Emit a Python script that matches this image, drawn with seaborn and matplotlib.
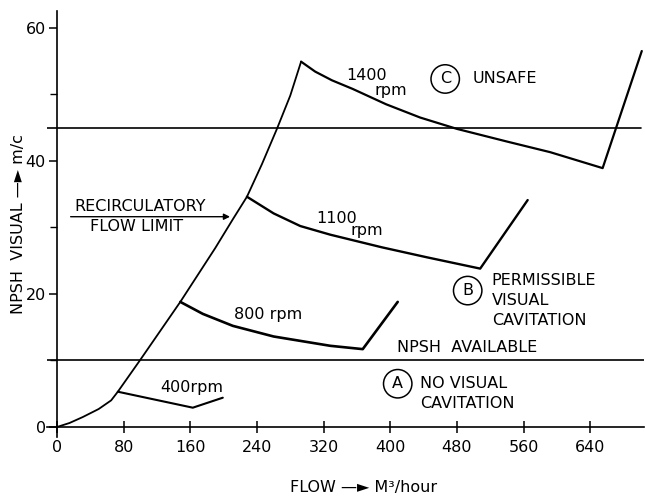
import matplotlib
matplotlib.use("Agg")
import matplotlib.pyplot as plt
import pandas as pd
import seaborn as sns

# envelope (recirculatory flow limit) curve
envelope_flow = [0, 15, 31, 50, 65, 73, 100, 148, 190, 211, 228, 246, 264, 280, 293]
envelope_npsh = [0, 0.6, 1.5, 2.7, 4.0, 5.3, 10.1, 18.8, 26.9, 31.2, 34.6, 39.5, 44.8, 49.8, 54.9]

# constant speed curves
rpm400_flow = [73, 163, 199]
rpm400_npsh = [5.3, 2.9, 4.4]
rpm800_flow = [148, 175, 211, 260, 328, 367, 409]
rpm800_npsh = [18.8, 17.0, 15.2, 13.6, 12.2, 11.7, 18.8]
rpm1100_flow = [228, 260, 292, 328, 390, 444, 508, 565]
rpm1100_npsh = [34.6, 32.1, 30.2, 28.9, 27.0, 25.5, 23.8, 34.1]
rpm1400_flow = [293, 310, 330, 355, 395, 436, 480, 540, 592, 655, 702]
rpm1400_npsh = [54.9, 53.4, 52.1, 50.8, 48.5, 46.5, 44.8, 42.9, 41.3, 38.9, 56.5]

npsh_available = 10
unsafe_limit = 45

x_ticks = [0, 80, 160, 240, 320, 400, 480, 560, 640]
y_ticks = [0, 20, 40, 60]
y_minor = [10, 30, 50]

curves = pd.concat([
	pd.DataFrame({"flow": envelope_flow, "npsh": envelope_npsh, "curve": "envelope"}),
	pd.DataFrame({"flow": rpm400_flow, "npsh": rpm400_npsh, "curve": "400"}),
	pd.DataFrame({"flow": rpm800_flow, "npsh": rpm800_npsh, "curve": "800"}),
	pd.DataFrame({"flow": rpm1100_flow, "npsh": rpm1100_npsh, "curve": "1100"}),
	pd.DataFrame({"flow": rpm1400_flow, "npsh": rpm1400_npsh, "curve": "1400"}),
], ignore_index=True)

sns.set_theme(style="ticks")
plt.rcParams["font.family"] = ["DejaVu Sans"]

fig = plt.figure(figsize=(6.45, 5.04), dpi=100)
ax = fig.add_axes([0.0729, 0.133, 0.926, 0.845])

widths = {"envelope": 1.3, "400": 1.5, "800": 1.9, "1100": 1.7, "1400": 1.6}
for name, part in curves.groupby("curve", sort=False):
	sns.lineplot(data=part, x="flow", y="npsh", sort=False, estimator=None,
				 color="black", lw=widths[name], ax=ax)

ax.axhline(npsh_available, color="black", lw=1.2)
ax.axhline(unsafe_limit, color="black", lw=1.2, xmax=0.995)

ax.set_xlim(-12, 705)
ax.set_ylim(-1.5, 62.5)
ax.spines["left"].set_position(("data", 0))
ax.spines["bottom"].set_position(("data", 0))
ax.spines["top"].set_visible(False)
ax.spines["right"].set_visible(False)
for s in ["left", "bottom"]:
	ax.spines[s].set_color("black")
	ax.spines[s].set_linewidth(1.2)

ax.set_xticks(x_ticks)
ax.set_yticks(y_ticks)
ax.set_yticks(y_minor, minor=True)
ax.tick_params(axis="both", which="major", labelsize=11.5, colors="black", length=6, width=1.1)
ax.tick_params(axis="y", which="minor", length=5, width=1.0, colors="black")
ax.tick_params(axis="x", direction="inout", length=9, pad=5)
ax.tick_params(axis="y", pad=2)

ax.set_xlabel("FLOW —► M³/hour", fontsize=11.5, color="black")
ax.xaxis.set_label_coords(0.53, -0.1)
ax.set_ylabel("NPSH  VISUAL —► m/c", fontsize=11.5, color="black")
ax.yaxis.set_label_coords(-0.035, 0.5)

txt = dict(fontsize=11.5, color="black", va="center")
ax.text(347, 52.8, "1400", ha="left", **txt)
ax.text(381, 50.6, "rpm", ha="left", **txt)
ax.text(311, 31.4, "1100", ha="left", **txt)
ax.text(352, 29.6, "rpm", ha="left", **txt)
ax.text(213, 16.9, "800 rpm", ha="left", **txt)
ax.text(124, 6.0, "400rpm", ha="left", **txt)

circ = dict(boxstyle="circle,pad=0.42", fc="white", ec="black", lw=1.1)
ax.text(466, 52.3, "C", ha="center", bbox=circ, **txt)
ax.text(499, 52.3, "UNSAFE", ha="left", **txt)
ax.text(493, 20.5, "B", ha="center", bbox=circ, **txt)
ax.text(522, 22.0, "PERMISSIBLE", ha="left", **txt)
ax.text(522, 19.0, "VISUAL", ha="left", **txt)
ax.text(522, 16.0, "CAVITATION", ha="left", **txt)
ax.text(408, 11.9, "NPSH  AVAILABLE", ha="left", **txt)
ax.text(409, 6.5, "A", ha="center", bbox=circ, **txt)
ax.text(436, 6.5, "NO VISUAL", ha="left", **txt)
ax.text(436, 3.6, "CAVITATION", ha="left", **txt)

ax.annotate("", xy=(211, 31.6), xytext=(13, 31.6),
			arrowprops=dict(arrowstyle="-|>", color="black", lw=1.0, mutation_scale=9))
ax.text(100, 33.1, "RECIRCULATORY", ha="center", **txt)
ax.text(96, 30.1, "FLOW LIMIT", ha="center", **txt)

fig.savefig("out.png", dpi=100)
plt.close(fig)
